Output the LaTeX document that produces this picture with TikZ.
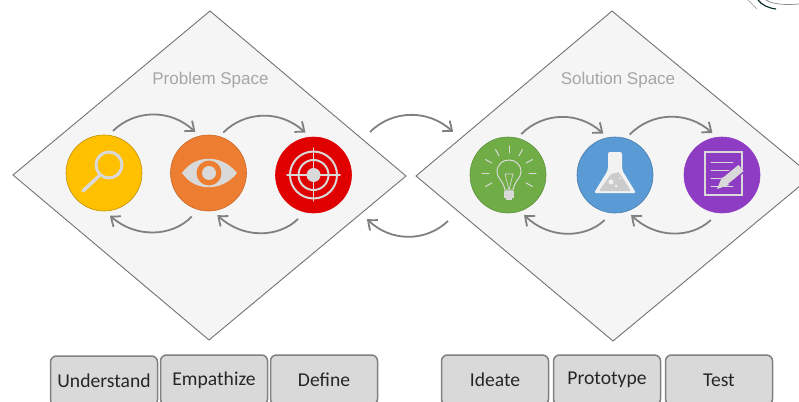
\documentclass[tikz,border=0pt]{standalone}
\usepackage{fontspec}
\setmainfont{Carlito}
\newfontfamily\spacefont{Liberation Sans}
\usetikzlibrary{arrows.meta,bending}
\tikzset{
	spacebox/.style={draw=black!55, fill=black!4, line width=0.9pt, line join=miter},
	spacelabel/.style={font=\spacefont\fontsize{17}{20}\selectfont, text=black!35},
	stagebtn/.style={draw=black!50, fill=black!15, line width=1.5pt, rounded corners=6pt,
		minimum width=107pt, minimum height=50pt, inner sep=0pt, text=black!85,
		font=\fontsize{19.6}{22}\selectfont},
	stage/.style={circle, minimum size=76pt, inner sep=0pt, outer sep=5pt, line width=0.6pt},
	flow/.style={draw=black!50, line width=1.8pt, -{Straight Barb[length=8pt,width=13pt,bend]}},
	flowback/.style={flow, shorten <=4pt},
	iconline/.style={draw=black!15, line width=3pt, line cap=round},
	iconthin/.style={draw=black!15, line width=1pt, line cap=round},
}
\definecolor{cyellow}{HTML}{FFC000}
\definecolor{corange}{HTML}{ED7D31}
\definecolor{cred}{HTML}{E00000}
\definecolor{cgreen}{HTML}{70AD47}
\definecolor{cblue}{HTML}{5B9BD5}
\definecolor{cpurple}{HTML}{8E3CC4}
\begin{document}
\begin{tikzpicture}[x=1pt, y=-1pt]
	\clip (0,0) rectangle (799,401);
	\fill[white] (0,0) rectangle (799,401);

	% corner scrap
	\draw[black!40, line width=0.6pt] (748,0) -- (757,9);
	\draw[black!70!teal, line width=1.1pt] (758,0) .. controls (762,5) and (768,8) .. (776,9);
	\draw[black!45, line width=0.7pt] (766,0) .. controls (774,5) and (788,5) .. (799,4);

	% the two spaces
	\draw[spacebox] (210,11) -- (406,176) -- (209,340) -- (13,175) -- cycle;
	\draw[spacebox] (612,11) -- (812,176) -- (613,341) -- (416,176) -- cycle;
	\node[spacelabel] at (210.5,80) (problem) {Problem Space};
	\node[spacelabel] at (618,80) (solution) {Solution Space};

	% stages
	\node[stage, fill=cyellow, draw=cyellow!75!black] at (104,173) (search) {};
	\node[stage, fill=corange, draw=corange!85!black] at (208.5,173) (eye) {};
	\node[stage, fill=cred, draw=cred] at (313.5,175) (target) {};
	\node[stage, fill=cgreen, draw=cgreen!85!black] at (508,175) (bulb) {};
	\node[stage, fill=cblue, draw=cblue!80!black] at (615,175) (flask) {};
	\node[stage, fill=cpurple, draw=cpurple] at (722,175) (notes) {};

	% arrows inside the spaces
	\draw[flow] (search.78) to[bend left=45] (eye.108);
	\draw[flow] (eye.70) to[bend left=45] (target.101);
	\draw[flowback] (eye.-109) to[bend left=45] (search.-82);
	\draw[flowback] (target.-107) to[bend left=45] (eye.-78);
	\draw[flow] (bulb.72) to[bend left=45] (flask.106);
	\draw[flow] (flask.70) to[bend left=45] (notes.103);
	\draw[flowback] (flask.-100) to[bend left=45] (bulb.-68);
	\draw[flowback] (notes.-101) to[bend left=45] (flask.-68);

	% arrows between the spaces
	\coordinate (outtop) at (370,132);
	\coordinate (intop) at (453,132);
	\coordinate (outlow) at (448,221);
	\coordinate (inlow) at (367,219);
	\draw[flow] (outtop) to[bend left=45] (intop);
	\draw[flow] (outlow) to[bend left=45] (inlow);

	% magnifier
	\draw[iconline] (109,165) circle (13);
	\draw[iconline, line width=3.5pt] (99,176) -- (83,191);

	% eye
	\fill[black!15] (182,173) .. controls (195,154) and (222,154) .. (237,173)
		.. controls (222,192) and (195,192) .. cycle;
	\fill[corange] (209,173) circle (12.5);
	\fill[black!15] (209,173) circle (7);

	% target
	\draw[iconline, line cap=butt, line width=2pt] (313.5,175) circle (23.5);
	\draw[iconline, line cap=butt, line width=2pt] (313.5,175) circle (15);
	\fill[black!15] (313.5,175) circle (7);
	\draw[iconthin, line width=1.5pt] (287,175) -- (340,175);
	\draw[iconthin, line width=1.5pt] (313.5,148) -- (313.5,201);

	% lightbulb
	\foreach \ang in {-210,-180,-150,-120,-90,-60,-30,0,30}
		\draw[iconthin] (509,173) ++(\ang:20) -- ++(\ang:7);
	\draw[iconthin] (505,190) .. controls (503,180) and (497,178) .. (497,172)
		.. controls (497,156) and (521,156) .. (521,172)
		.. controls (521,178) and (515,180) .. (513,190) -- cycle;
	\draw[iconthin, line width=0.7pt] (505,174) -- (513,174) -- (509,190) -- cycle;
	\fill[black!15] (504,191) rectangle (514,198);
	\fill[black!15] (506,198) rectangle (512,200);

	% flask
	\fill[black!5, rounded corners=2pt] (608,152) -- (622,152) -- (622,170) -- (636,193)
		-- (594,193) -- (608,170) -- cycle;
	\fill[black!20, rounded corners=1pt] (611,174) -- (619,172) -- (631,191) -- (599,191) -- cycle;
	\fill[black!5] (611,182) circle (2.5);
	\fill[black!5] (616,186) circle (1.5);
	\fill[black!5] (620,178) circle (1);

	% notepad
	\draw[iconthin, line cap=butt, line width=1.2pt] (705,152) rectangle (742,195);
	\foreach \ypos/\xend in {162/733,170/733,178/726,186/733}
		\draw[iconthin, line width=0.8pt] (711,\ypos) -- (\xend,\ypos);
	\draw[cpurple, line width=11pt] (724,182) -- (741,168);
	\draw[black!15, line width=8pt] (724,182) -- (741,168);
	\fill[black!15] (717,189) -- (722,177) -- (729,185) -- cycle;

	% buttons
	\node[stagebtn] at (104,381) (understand) {Understand};
	\node[stagebtn] at (214,380) (empathize) {Empathize};
	\node[stagebtn] at (324,380) (define) {Define};
	\node[stagebtn] at (495,380) (ideate) {Ideate};
	\node[stagebtn] at (607,380) (prototype) {Prototype};
	\node[stagebtn] at (719,380) (test) {Test};
\end{tikzpicture}
\end{document}
